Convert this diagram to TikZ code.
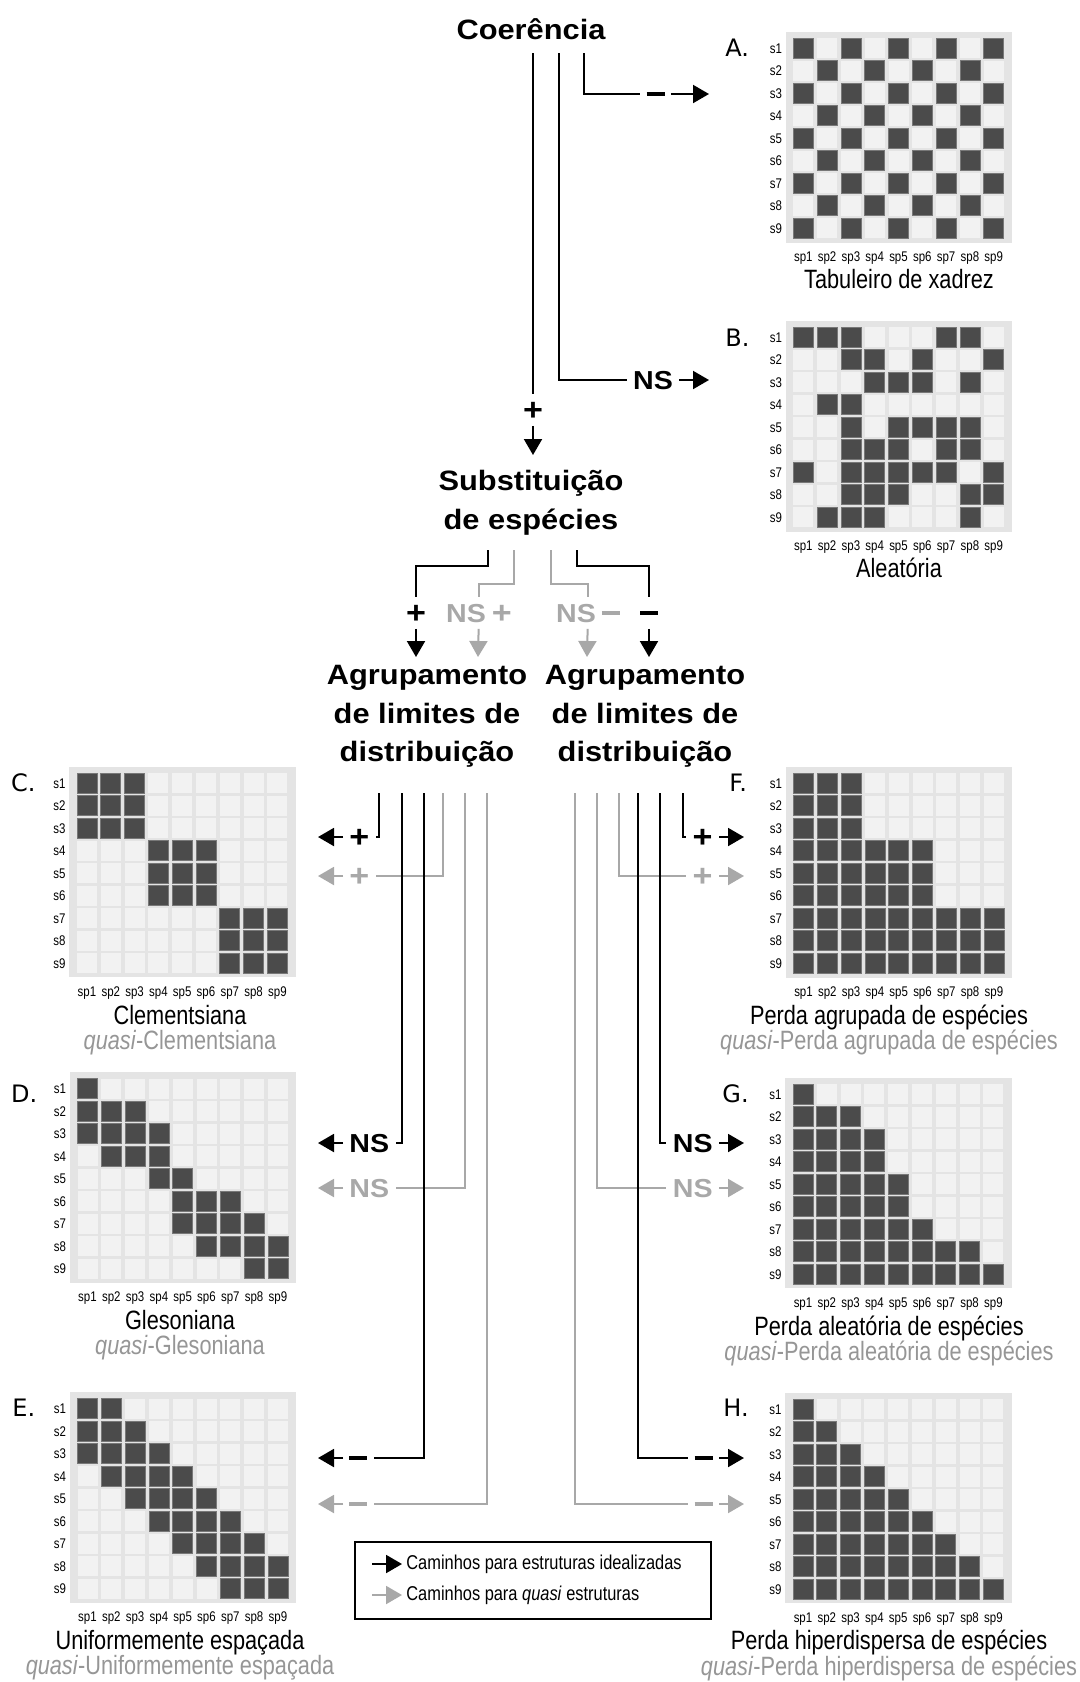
\documentclass[tikz,border=0pt]{standalone}
\usepackage{fontspec}
\setmainfont{Liberation Sans}
\newfontfamily\nfont{Liberation Sans}[FakeStretch=0.82]
\newfontfamily\wfont{Liberation Sans}[FakeStretch=1.1]
\newfontfamily\lfont{DejaVu Sans}
\usetikzlibrary{arrows.meta}
\definecolor{dcell}{RGB}{75,75,75}
\definecolor{dcellb}{RGB}{120,120,120}
\definecolor{lcell}{RGB}{242,242,242}
\definecolor{gbg}{RGB}{228,228,228}
\definecolor{pgray}{RGB}{168,168,168}
\definecolor{qgray}{RGB}{150,150,150}
\newcommand\pls{{\fontsize{15.5}{15.5}\selectfont\raisebox{-0.4pt}{+}}}
\newcommand\mns{\raisebox{3.5pt}{\rule{9pt}{2.4pt}}}
\tikzset{
  blk/.style={line width=1pt, draw=black},
  gry/.style={line width=1pt, draw=pgray},
  arrhead/.style={-{Triangle[length=8pt,width=9pt]}},
  big/.style={font=\wfont\bfseries\fontsize{14}{19.25}\selectfont, align=center, inner sep=0pt},
  lab/.style={font=\wfont\bfseries\fontsize{13}{15}\selectfont, inner xsep=3pt, inner ysep=3pt, text height=9.4pt, text depth=0pt},
  ttl/.style={font=\nfont\fontsize{13.25}{15}\selectfont, inner sep=0pt, anchor=base},
  qttl/.style={ttl, text=qgray},
  sml/.style={font=\nfont\fontsize{7}{8}\selectfont, inner sep=0pt},
  ltr/.style={font=\lfont\fontsize{12}{12}\selectfont, inner sep=0pt, anchor=base west},
  legt/.style={font=\nfont\fontsize{10}{12}\selectfont, inner xsep=2pt, inner ysep=0pt, anchor=west},
}
\newcommand\mgrid[4]{%
  \node[fill=gbg, inner sep=0pt, minimum width=113.2pt, minimum height=105.25pt, anchor=north west] (#1) at ({#2-18},{#3-16.5}) {};
  \foreach \mi in {1,2,3,4,5,6,7,8,9}{%
    \node[sml, anchor=base east] (#1s\mi) at ({#2-21},{#3+(\mi-1)*22.5+5}) {s\mi};
    \node[sml, anchor=base] (#1c\mi) at ({#2+(\mi-1)*23.8},{#3+213}) {sp\mi};
    \foreach \mj in {1,2,3,4,5,6,7,8,9}{%
      \fill[lcell] ({#2+(\mj-1)*23.8-10},{#3+(\mi-1)*22.5-10}) rectangle ++(20,20);}}
  \foreach \mrow [count=\mi] in {#4}{%
    \foreach \mj in \mrow {%
      \filldraw[fill=dcell, draw=dcellb, line width=0.4pt] ({#2+(\mj-1)*23.8-10},{#3+(\mi-1)*22.5-10}) rectangle ++(20,20);}}
}
\begin{document}
\begin{tikzpicture}[x=0.5pt,y=-0.5pt]
\useasboundingbox (0,0) rectangle (1080,1682);
\fill[white] (0,0) rectangle (1080,1682);

% ---------- matrices ----------
\mgrid{mA}{803.3}{48.3}{{1,3,5,7,9},{2,4,6,8},{1,3,5,7,9},{2,4,6,8},{1,3,5,7,9},{2,4,6,8},{1,3,5,7,9},{2,4,6,8},{1,3,5,7,9}}
\mgrid{mB}{803.3}{337.3}{{1,2,3,7,8},{3,4,6,9},{4,5,6,8},{2,3},{3,5,6,7,8},{3,4,5,7,8},{1,3,4,5,6,7,9},{3,4,5,8,9},{2,3,4,8}}
\mgrid{mC}{87}{783}{{1,2,3},{1,2,3},{1,2,3},{4,5,6},{4,5,6},{4,5,6},{7,8,9},{7,8,9},{7,8,9}}
\mgrid{mD}{87.5}{1088.5}{{1},{1,2,3},{1,2,3,4},{2,3,4},{4,5},{5,6,7},{5,6,7,8},{6,7,8,9},{8,9}}
\mgrid{mE}{87.5}{1408.5}{{1,2},{1,2,3},{1,2,3,4},{2,3,4,5},{3,4,5,6},{4,5,6,7},{5,6,7,8},{6,7,8,9},{7,8,9}}
\mgrid{mF}{803.5}{783.3}{{1,2,3},{1,2,3},{1,2,3},{1,2,3,4,5,6},{1,2,3,4,5,6},{1,2,3,4,5,6},{1,2,3,4,5,6,7,8,9},{1,2,3,4,5,6,7,8,9},{1,2,3,4,5,6,7,8,9}}
\mgrid{mG}{803}{1094}{{1},{1,2,3},{1,2,3,4},{1,2,3,4},{1,2,3,4,5},{1,2,3,4,5},{1,2,3,4,5,6},{1,2,3,4,5,6,7,8},{1,2,3,4,5,6,7,8,9}}
\mgrid{mH}{803}{1409}{{1},{1,2},{1,2,3},{1,2,3,4},{1,2,3,4,5},{1,2,3,4,5,6},{1,2,3,4,5,6,7},{1,2,3,4,5,6,7,8},{1,2,3,4,5,6,7,8,9}}

% ---------- titles ----------
\node[ttl] (tA) at (899,288) {Tabuleiro de xadrez};
\node[ttl] (tB) at (899,577) {Aleatória};
\node[ttl] (tC) at (180,1024) {Clementsiana};
\node[qttl] (qC) at (180,1049) {\textit{quasi}-Clementsiana};
\node[ttl] (tD) at (180,1329.5) {Glesoniana};
\node[qttl] (qD) at (180,1354.5) {\textit{quasi}-Glesoniana};
\node[ttl] (tE) at (180,1649) {Uniformemente espaçada};
\node[qttl] (qE) at (180,1674.5) {\textit{quasi}-Uniformemente espaçada};
\node[ttl] (tF) at (889,1024.3) {Perda agrupada de espécies};
\node[qttl] (qF) at (889,1049.3) {\textit{quasi}-Perda agrupada de espécies};
\node[ttl] (tG) at (889,1335) {Perda aleatória de espécies};
\node[qttl] (qG) at (889,1360) {\textit{quasi}-Perda aleatória de espécies};
\node[ttl] (tH) at (889,1649.5) {Perda hiperdispersa de espécies};
\node[qttl] (qH) at (889,1675) {\textit{quasi}-Perda hiperdispersa de espécies};

% ---------- letters ----------
\node[ltr] (lA) at (725,56) {A.};
\node[ltr] (lB) at (725,346) {B.};
\node[ltr] (lC) at (10.7,791) {C.};
\node[ltr] (lD) at (10.7,1102) {D.};
\node[ltr] (lE) at (12,1416) {E.};
\node[ltr] (lF) at (729,791) {F.};
\node[ltr] (lG) at (722,1102) {G.};
\node[ltr] (lH) at (723,1416) {H.};

% ---------- main texts ----------
\node[big, anchor=base] (coh) at (531,39) {Coerência};
\node[big] (sub) at (531,503) {Substituição\\de espécies};
\node[big] (agL) at (427,716.5) {Agrupamento\\de limites de\\distribuição};
\node[big] (agR) at (645,716.5) {Agrupamento\\de limites de\\distribuição};

% ---------- top connectors ----------
\coordinate (t1) at (533,53);
\coordinate (t2) at (559,53);
\coordinate (t3) at (584,53);
\node[lab] (pS) at (533,410) {\pls};
\coordinate (eS) at (533,455);
\draw[blk] (t1) -- (pS);
\draw[blk,arrhead] (pS) -- (eS);
\node[lab] (nB) at (653,380) {NS};
\coordinate (eB) at (709,380);
\draw[blk] (t2) |- (nB);
\draw[blk,arrhead] (nB) -- (eB);
\node[lab] (dA) at (655.5,94) {\mns};
\coordinate (eA) at (709,94);
\draw[blk] (t3) |- (dA);
\draw[blk,arrhead] (dA) -- (eA);

% ---------- middle connectors ----------
\coordinate (m1) at (488,550);
\coordinate (m2) at (514,550);
\coordinate (m3) at (551,550);
\coordinate (m4) at (577,550);
\coordinate (k1) at (488,566);
\coordinate (k2) at (514,584);
\coordinate (k3) at (551,584);
\coordinate (k4) at (577,566);
\node[lab] (mp1) at (416,613) {\pls};
\node[lab,text=pgray] (mp2) at (479,613) {NS\kern3pt\pls};
\node[lab,text=pgray,fill=none] (mp3) at (588,613) {NS\kern3pt{\color{pgray}\mns}};
\node[lab] (mp4) at (649,613) {\mns};
\coordinate (me1) at (416,657);
\coordinate (me2) at (478,657);
\coordinate (me3) at (587,657);
\coordinate (me4) at (649,657);
\draw[gry] (m2) -- (k2) -| (mp2);
\draw[gry] (m3) -- (k3) -| (mp3);
\draw[blk] (m1) -- (k1) -| (mp1);
\draw[blk] (m4) -- (k4) -| (mp4);
\draw[blk,arrhead] (mp1) -- (me1);
\draw[gry,arrhead] (mp2) -- (me2);
\draw[gry,arrhead] (mp3) -- (me3);
\draw[blk,arrhead] (mp4) -- (me4);

% ---------- lower connectors: left ----------
\coordinate (L1) at (379,793);
\coordinate (L2) at (401.7,793);
\coordinate (L3) at (424,793);
\coordinate (L4) at (443,793);
\coordinate (L5) at (465,793);
\coordinate (L6) at (487,793);
\node[lab,anchor=west] (lp1) at (343,837) {\pls};
\node[lab,anchor=west] (lp2) at (343,1143) {NS};
\node[lab,anchor=west] (lp3) at (343,1458) {\mns};
\node[lab,anchor=west,text=pgray] (lp4) at (343,876) {\pls};
\node[lab,anchor=west,text=pgray] (lp5) at (343,1188) {NS};
\node[lab,anchor=west,text=pgray] (lp6) at (343,1504) {\mns};
\coordinate (le1) at (318,837);
\coordinate (le2) at (318,1143);
\coordinate (le3) at (318,1458);
\coordinate (le4) at (318,876);
\coordinate (le5) at (318,1188);
\coordinate (le6) at (318,1504);

% ---------- lower connectors: right ----------
\coordinate (R1) at (683,793);
\coordinate (R2) at (660.3,793);
\coordinate (R3) at (638,793);
\coordinate (R4) at (619,793);
\coordinate (R5) at (597,793);
\coordinate (R6) at (575,793);
\node[lab,anchor=east] (rp1) at (719,837) {\pls};
\node[lab,anchor=east] (rp2) at (719,1143) {NS};
\node[lab,anchor=east] (rp3) at (719,1458) {\mns};
\node[lab,anchor=east,text=pgray] (rp4) at (719,876) {\pls};
\node[lab,anchor=east,text=pgray] (rp5) at (719,1188) {NS};
\node[lab,anchor=east,text=pgray] (rp6) at (719,1504) {\mns};
\coordinate (re1) at (744,837);
\coordinate (re2) at (744,1143);
\coordinate (re3) at (744,1458);
\coordinate (re4) at (744,876);
\coordinate (re5) at (744,1188);
\coordinate (re6) at (744,1504);

% gray first
\draw[gry] (L4) |- (lp4);
\draw[gry] (L5) |- (lp5);
\draw[gry] (L6) |- (lp6);
\draw[gry] (R4) |- (rp4);
\draw[gry] (R5) |- (rp5);
\draw[gry] (R6) |- (rp6);
\draw[gry,arrhead] (lp4) -- (le4);
\draw[gry,arrhead] (lp5) -- (le5);
\draw[gry,arrhead] (lp6) -- (le6);
\draw[gry,arrhead] (rp4) -- (re4);
\draw[gry,arrhead] (rp5) -- (re5);
\draw[gry,arrhead] (rp6) -- (re6);
% black on top
\draw[blk] (L1) |- (lp1);
\draw[blk] (L2) |- (lp2);
\draw[blk] (L3) |- (lp3);
\draw[blk] (R1) |- (rp1);
\draw[blk] (R2) |- (rp2);
\draw[blk] (R3) |- (rp3);
\draw[blk,arrhead] (lp1) -- (le1);
\draw[blk,arrhead] (lp2) -- (le2);
\draw[blk,arrhead] (lp3) -- (le3);
\draw[blk,arrhead] (rp1) -- (re1);
\draw[blk,arrhead] (rp2) -- (re2);
\draw[blk,arrhead] (rp3) -- (re3);

% ---------- legend ----------
\node[draw=black, line width=0.9pt, fill=white, inner sep=0pt, minimum width=178pt, minimum height=38.5pt, anchor=north west] (leg) at (354,1541) {};
\node[legt] (lt1) at (402,1564) {Caminhos para estruturas idealizadas};
\node[legt] (lt2) at (402,1595) {Caminhos para \textit{quasi} estruturas};
\coordinate (lg1) at (372,1564);
\coordinate (lg2) at (372,1595);
\draw[blk,arrhead] (lg1) -- (lt1);
\draw[gry,arrhead] (lg2) -- (lt2);
\end{tikzpicture}
\end{document}
